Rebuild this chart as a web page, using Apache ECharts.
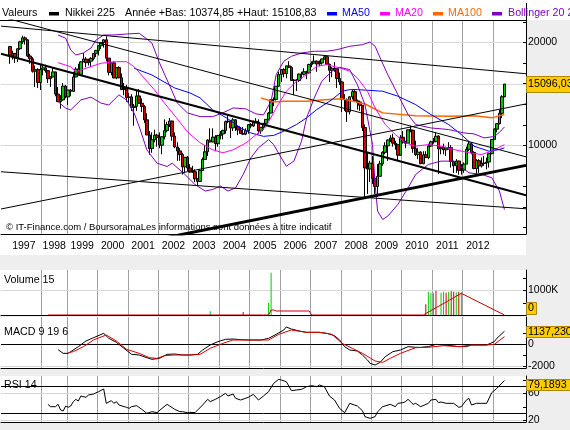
<!DOCTYPE html>
<html><head><meta charset="utf-8">
<script src="https://cdn.jsdelivr.net/npm/echarts@6/dist/echarts.min.js"></script>
<style>html,body{margin:0;padding:0;background:#eeeeee;}#c{width:570px;height:430px;}</style>
</head><body><div id="c"></div>
<script>
// ---------------- DATA ----------------
const slotCount = 207;            // monthly slots on the time axis
const candleStart = 3;            // slot index of first candle
const candleOpen = [
 19446,18330,18557,18003,19151,20069,20605,20331,18229,17888,16459,16636,
 15259,16628,16831,16527,15670,15830,16379,14108,13406,13565,14883,
 13842,14499,14368,15837,16701,16112,17530,17862,17437,17605,17943,18558,
 18934,19540,19960,20337,17974,16332,17411,15727,16861,15747,14539,14649,
 13786,13843,12883,12999,13934,13262,12969,11860,10713,9775,10366,10697,
 10543,9998,10588,11025,11493,11764,10622,9878,9619,9383,8640,9216,
 8579,8340,8363,7973,7831,8425,9083,9563,10344,10219,10560,10101,
 10677,10784,11042,11715,11762,11236,11859,11326,11082,10824,10771,11033,
 11489,11388,11741,11669,11009,11277,11584,11900,12414,13574,13607,14872,
 16111,16650,16205,17060,16906,15467,15505,15457,16141,16128,16399,16274,
 17226,17383,17604,17288,17400,17876,18138,17249,16569,16786,16738,15681,
 15308,13592,13604,12526,13850,14339,13482,13377,13073,11260,8577,8512,
 8860,7994,7568,8110,8828,9523,9958,10357,10493,10133,10035,9346,
 10546,10198,10126,11090,11057,9769,9383,9537,8824,9369,9202,9937,
 10229,10238,10624,9755,9850,9694,9816,9833,8955,8700,8988,8435,
 8455,8803,9723,10084,9521,8543,9007,8695,8840,8870,8928,9446,
 10395,11139,11559,12398,13861];
const candleHigh = [
 19446,18900,18600,19200,20200,20910,20800,20400,18500,18100,17100,16800,
 17300,17300,17200,16600,15900,16800,16400,14800,14000,15200,15000,
 14500,14600,16400,16900,17300,17600,18600,18100,17900,18100,18600,19000,
 19600,20000,20400,20833,18000,17500,17600,16900,17000,16200,15200,15000,
 14200,14100,13200,14500,14600,13700,13100,12400,11000,10900,11100,10800,
 10900,10600,11900,11700,12000,11800,10900,10200,9800,9500,9200,9300,
 8800,8700,8500,8000,8500,9200,10000,10400,11200,11200,10700,10700,
 11000,11100,11800,12200,11800,12000,11900,11400,11300,11300,11200,11500,
 11600,11800,12000,11900,11300,11600,11900,12500,13600,13800,14900,16400,
 16600,16800,17100,17600,17000,15600,15600,16200,16400,16800,16500,17300,
 17600,18300,17700,17700,17900,18300,18300,17300,16900,17500,16800,16300,
 15400,14100,13700,13900,14500,14600,13600,13500,13100,11500,9500,9000,
 9300,8100,8800,9000,9600,10200,10400,10700,10800,10300,10100,10700,
 11000,10300,11100,11400,11100,10300,9800,9600,9600,9600,10100,10300,
 10500,10900,10700,9900,10100,9900,10200,10000,9000,9100,9000,8800,
 8900,9900,10300,10200,9600,9100,9100,9200,9300,9200,9500,10400,
 11200,11600,12700,14000,15109];
const candleLow = [
 17303,17800,17400,17500,19000,19800,19700,18100,17300,16300,14800,14700,
 14500,16000,16300,15200,14800,15800,13900,13400,12787,13500,13700,
 13100,13900,14300,15800,16100,16000,17500,16900,17100,16900,17700,18100,
 18300,19100,19300,17600,16000,16000,15700,15600,15700,14500,14000,13400,
 13300,12600,11400,12600,13200,12500,11600,10700,9380,9500,10200,9900,
 9800,9400,10400,10900,11300,10300,9800,9000,9000,8200,8300,8400,
 8300,8300,7800,7604,7800,8400,9100,9300,10200,10200,9600,9900,
 10400,10400,10800,11600,10500,11000,11000,10700,10800,10700,10700,10800,
 11200,11300,11600,10800,10800,11100,11500,11800,12400,13000,13500,14800,
 15300,15800,15700,16800,15400,14000,14400,15300,15600,16000,15600,16200,
 16900,17300,16400,17000,17200,17800,17200,15300,15800,16400,14700,15000,
 12500,12600,11700,12300,13600,13400,12700,12600,11000,6994,7200,7800,
 7700,7200,7054,8100,8700,9400,9000,10200,9900,9700,9000,9300,
 10100,9800,10100,10900,9500,9300,9100,8800,8800,9200,9100,9900,
 10100,10200,8227,9400,9400,9300,9700,8600,8300,8300,8200,8200,
 8300,8800,9600,9400,8500,8200,8300,8600,8700,8500,8600,9400,
 10375,10900,11500,12000,13800];
const candleClose = [
 18330,18557,18003,19151,20069,20605,20331,18229,17888,16459,16636,15259,
 16628,16831,16527,15641,15830,16379,14108,13406,13565,14883,13842,
 14499,14368,15837,16701,16112,17530,17862,17437,17605,17943,18558,18934,
 19540,19960,20337,17974,16332,17411,15727,16861,15747,14539,14649,13786,
 13843,12883,12999,13934,13262,12969,11860,10713,9775,10366,10697,10543,
 9998,10588,11025,11493,11764,10622,9878,9619,9383,8640,9216,8579,
 8340,8363,7973,7831,8425,9083,9563,10344,10219,10560,10101,10677,
 10784,11042,11715,11762,11236,11859,11326,11082,10824,10771,11033,11489,
 11388,11741,11669,11009,11277,11584,11900,12414,13574,13607,14872,16111,
 16650,16205,17060,16906,15467,15505,15457,16141,16128,16399,16274,17226,
 17383,17604,17288,17400,17876,18138,17249,16569,16786,16738,15681,15308,
 13592,13604,12526,13850,14339,13482,13377,13073,11260,8577,8512,8860,
 7994,7568,8110,8828,9523,9958,10357,10493,10133,10035,9346,10546,
 10198,10126,11090,11057,9769,9383,9537,8824,9369,9202,9937,10229,
 10238,10624,9755,9850,9694,9816,9833,8955,8700,8988,8435,8455,
 8803,9723,10084,9521,8543,9007,8695,8840,8870,8928,9446,10395,
 11139,11559,12398,13861,15096.03];

const ma20Idx = [22,27,29,33,39,45,49,52,56,60,64,69,73,78,83,87,91,96,100,104,108,112,116,120,124,128,133,137,140,144,147,151,155,159,163,168,173,178,184,189,193,198];
const ma20Val = [17430,16970,16410,16790,17370,17550,17550,16970,15700,14510,13270,11940,10940,10160,9690,9500,9690,10140,10720,11330,12850,14380,15380,16080,17020,17200,16830,16460,15730,14380,12850,11490,10740,10160,9930,10040,9930,9710,9500,9390,9600,10040];
const ma50Idx = [52,59,68,74,78,83,89,94,98,103,107,111,116,120,124,130,134,137,140,150,156,163,169,176,181,186,192,196,198];
const ma50Val = [16790,16050,14700,14220,13750,12680,11940,11230,10860,10610,10680,10990,11490,12020,12710,13590,14380,14540,14540,14380,13910,13140,12290,11490,10740,9930,9600,9710,9820];
const ma100Idx = [102,107,111,120,127,134,143,150,163,176,186,193,198];
const ma100Val = [13750,13380,13450,13450,13590,13660,13200,12430,12200,12150,12200,12020,12290];
const bbUpIdx = [22,25,27,29,32,35,37,40,44,49,54,57,59,62,65,69,73,78,83,87,91,96,100,103,106,108,111,114,118,123,128,132,137,142,145,147,149,152,156,160,163,169,176,182,186,190,194,196,198];
const bbUpVal = [21010,20550,18990,18360,18610,19250,20310,21010,21010,21150,21250,20450,19900,17400,15520,13290,12430,12120,12120,12430,12850,12770,12350,12260,13450,16080,17600,18200,18610,18830,18830,19030,19470,19680,20040,19470,18000,16080,14060,12290,11490,11230,11110,10860,10790,10500,10600,10900,11300];
const bbLoIdx = [22,25,27,31,35,39,42,46,49,52,54,57,61,65,67,72,76,80,83,86,89,92,95,98,101,105,107,110,112,115,118,120,123,126,130,133,137,140,143,146,147,148,150,152,156,160,163,168,173,178,184,189,193,196,198];
const bbLoVal = [13410,12830,12680,13560,13820,13270,13110,14030,13560,12400,11330,9690,8860,8660,8860,8210,7670,7340,7420,7590,7340,7500,8210,9180,9820,10380,10040,9180,8680,8980,10270,12020,13750,15380,16460,16900,16630,15040,13140,10040,7670,6410,6060,6200,6710,7500,8210,8780,8980,8980,8300,8210,8030,7340,6480];

// trend lines: x in slot units, values in index points
const trendX1 = [-0.5, -0.5, -0.5, -0.5, -0.5, 60];
const trendV1 = [22300, 23750, 18520, 8359, 6504, 5280];
const trendX2 = [206.5, 206.5, 206.5, 206.5, 206.5, 206.5];
const trendV2 = [16180, 9243, 7134, 6513, 13203, 8728];
const trendWidth = [1, 1, 2, 1, 1, 3];

const volIdx = [82,95,105,106,167,168,169,170,171,173,174,175,176,177,178,179,180,181];
const volVal = [150,120,490,1690,430,930,890,870,970,890,930,890,930,950,930,910,930,910];
const volUp  = [1,0,1,1,0,1,1,1,0,1,1,0,1,0,0,1,0,1];
const volMaIdx = [18,105,106,107,108,121,122,166,181,198];
const volMaVal = [0,0,200,200,160,160,0,0,867,0];

const macdIdx = [22,24,26,30,33,36,40,42,45,48,51,54,57,59,62,65,68,71,74,77,79,82,85,88,91,94,97,99,102,105,108,111,112,114,117,120,122,125,128,131,133,135,137,140,142,144,145,147,149,151,154,157,160,163,165,168,171,174,177,180,183,185,188,191,194,195,198];
const macdVal = [-506,-833,-833,-238,268,565,952,506,149,-387,-923,-982,-1220,-1369,-1280,-923,-893,-982,-982,-923,-536,-89,208,417,446,387,357,357,357,506,863,1250,1518,1339,1161,1042,1042,1042,952,744,357,-238,-536,-625,-982,-1429,-1726,-1875,-1637,-1131,-685,-536,-238,-298,-298,-238,-30,-89,-149,-238,-238,-89,-89,-89,208,506,1137.23];
const sigIdx = [26,28,32,36,41,45,49,54,58,61,64,68,74,78,82,87,91,99,105,109,114,120,125,130,134,138,142,147,150,153,157,163,168,174,180,185,191,194,198];
const sigVal = [-774,-685,-238,357,804,268,-476,-833,-1220,-1280,-1042,-982,-982,-923,-387,60,357,357,357,863,1250,1042,1042,863,60,-387,-833,-1518,-1637,-1280,-833,-327,-298,-149,-238,-89,-89,-30,655];

const rsiIdx = [18,19,21,22,23,24,25,26,27,28,29,30,31,33,34,36,38,40,41,43,44,45,46,49,50,51,53,55,57,59,61,63,65,66,68,70,71,73,74,76,79,81,82,84,86,88,89,91,92,94,97,99,101,103,105,107,109,110,112,114,116,118,120,122,124,125,127,129,131,133,135,137,140,142,143,145,147,148,150,153,155,156,158,159,160,162,163,165,168,169,171,172,173,175,178,180,181,183,184,185,187,189,191,193,195,198];
const rsiVal = [43.5,40,40,43.5,35,33.5,41,39,41,47.5,51,48.5,56,54,57.5,59,62.5,66.5,45,49,45,47.5,42.5,39,37.5,40,41.5,36,30,32.5,31,37.5,43.5,41,36,32.5,32.5,31,31.5,31,42.5,51,47.5,51,55,60,56,59,52.5,50,54,58.5,50,56,62.5,75,81,80,77.5,64,65,66,70,71.5,70,72.5,70,56,50,37.5,31,45,41,34,25,22.5,25,32.5,40,43.5,40,45,46,47.5,51,43.5,45,40,45,50,51,46,47,45,45,39,40,50,52.5,42.5,45,45,45,61,67.5,79.1893];

const yearStartIdx = [16,26,38,50,62,74,86,98,110,122,134,146,158,170,182,194];
const yearLabelIdx = [9,21,32,44,56,68,80,92,104,116,128,140,152,164,176,188];
const yearLabels = ['1997','1998','1999','2000','2001','2002','2003','2004','2005','2006','2007','2008','2009','2010','2011','2012'];

const mainTickVals = [5743,6598,7579,8706,10000,11487,13195,15157,17411,20000,22974];
const mainLabelVals = [20000, 10000];
const mainLabelTxt = ['20000', '10000'];
const lastClose = 15096.03, lastCloseTxt = '15096,03';
const volTickVals = [500, 1000, 1500];
const volLabelVals = [1000]; const volLabelTxt = ['1000K'];
const lastVol = 0, lastVolTxt = '0';
const macdTickVals = [1000, 0, -1000, -2000];
const macdLabelVals = [0, -2000]; const macdLabelTxt = ['0', '-2000'];
const lastMacd = 1137.23, lastMacdTxt = '1137,230';
const rsiTickVals = [80, 60, 40, 20];
const rsiLabelVals = [60, 20]; const rsiLabelTxt = ['60', '20'];
const lastRsi = 79.1893, lastRsiTxt = '79,1893';

const headerInfo = 'Année +Bas: 10374,85 +Haut: 15108,83';

// ---------------- BUILD ----------------
const cats = []; for (let i = 0; i < slotCount; i++) cats.push(String(i));
const yearStartSet = new Set(yearStartIdx);
const labelMap = {}; yearLabelIdx.forEach((k, j) => labelMap[k] = yearLabels[j]);
const pairs = (a, b) => a.map((x, i) => [x, b[i]]);
const candleData = candleOpen.map((o, i) => [candleStart + i, o, candleClose[i], candleLow[i], candleHigh[i]]);

const FONT = 'Liberation Sans, Arial, sans-serif';
const GRID_L = 1, GRID_W = 525;
const PANELS = [
  {top: 20, height: 214},
  {top: 270, height: 45},
  {top: 317, height: 51},
  {top: 376, height: 46}
];
const grids = PANELS.map(p => ({left: GRID_L, width: GRID_W, top: p.top, height: p.height}));
const vSplit = {show: true, interval: (i) => yearStartSet.has(i), lineStyle: {color: '#a0a0a0', width: 1}};
function catAxis(g, showLabels) {
  return {
    type: 'category', gridIndex: g, data: cats, boundaryGap: true,
    axisLine: {show: true, onZero: false, lineStyle: {color: '#000', width: 1}},
    axisTick: {show: false},
    axisLabel: showLabels ? {
      show: true, interval: (i) => labelMap[i] !== undefined,
      formatter: (v, i) => labelMap[i] || '', color: '#000', fontSize: 10.5,
      fontFamily: FONT, margin: 7, padding: [0, 2.5, 0, 0]
    } : {show: false},
    splitLine: vSplit
  };
}
function valY(g, type, min, max) {
  return {
    type: type, gridIndex: g, min: min, max: max, position: 'right',
    axisLine: {show: true, onZero: false, lineStyle: {color: '#000', width: 1}},
    axisTick: {show: false}, axisLabel: {show: false}, splitLine: {show: false}
  };
}
const lineS = (x, y, data, color, width, z) => ({
  type: 'line', xAxisIndex: x, yAxisIndex: y, data: data, symbol: 'none', showSymbol: false,
  lineStyle: {color: color, width: width}, z: z || 3, silent: true, animation: false
});
const hLine = (vals, color) => vals.map(v => ({yAxis: v, lineStyle: {color: color, width: 1, type: 'solid'}}));
const markL = (items) => ({silent: true, symbol: 'none', label: {show: false}, z: 1, data: items});

const series = [];
series.push({
  type: 'candlestick', xAxisIndex: 0, yAxisIndex: 0, data: candleData,
  encode: {x: 0, y: [1, 2, 3, 4]}, barWidth: 3, z: 2,
  itemStyle: {color: '#00c800', color0: '#d40000', borderColor: '#000', borderColor0: '#000', borderWidth: 1},
  markLine: markL(hLine([20000, 10000, lastClose], '#d8d8d8'))
});
series.push(lineS(0, 0, pairs(ma100Idx, ma100Val), '#ff6600', 1.5));
series.push(lineS(0, 0, pairs(ma50Idx, ma50Val), '#0000ff', 1));
series.push(lineS(0, 0, pairs(ma20Idx, ma20Val), '#ff00ff', 1));
series.push(lineS(0, 0, pairs(bbUpIdx, bbUpVal), '#8000c0', 1));
series.push(lineS(0, 0, pairs(bbLoIdx, bbLoVal), '#8000c0', 1));
for (let k = 0; k < trendX1.length; k++) {
  series.push(lineS(4, 0, [[trendX1[k], trendV1[k]], [trendX2[k], trendV2[k]]], '#000', trendWidth[k], 4));
}
series.push({
  type: 'bar', xAxisIndex: 1, yAxisIndex: 1, barWidth: 1, silent: true, z: 2,
  data: volIdx.map((k, i) => ({value: [k, volVal[i]], itemStyle: {color: volUp[i] ? '#00cc00' : '#cc0000'}})),
  markLine: markL(hLine([1000], '#d8d8d8'))
});
series.push(lineS(1, 1, pairs(volMaIdx, volMaVal), '#cc0000', 1));
const macdS = lineS(2, 2, pairs(macdIdx, macdVal), '#000', 1);
macdS.markLine = markL(hLine([0], '#000').concat(hLine([-2000], '#d8d8d8')));
series.push(macdS);
series.push(lineS(2, 2, pairs(sigIdx, sigVal), '#dd0000', 1));
const rsiS = lineS(3, 3, pairs(rsiIdx, rsiVal), '#000', 1);
rsiS.markLine = markL(hLine([70, 30], '#000').concat(hLine([60, 20], '#d8d8d8')));
series.push(rsiS);

const option = {
  animation: false,
  backgroundColor: '#eeeeee',
  textStyle: {fontFamily: FONT},
  grid: grids,
  xAxis: [
    catAxis(0, true), catAxis(1, false), catAxis(2, false), catAxis(3, false),
    {type: 'value', gridIndex: 0, min: -0.5, max: slotCount - 0.5, position: 'top',
     axisLine: {show: true, onZero: false, lineStyle: {color: '#000', width: 1}},
     axisTick: {show: false}, axisLabel: {show: false}, splitLine: {show: false}}
  ],
  yAxis: [
    valY(0, 'log', 5496, 23240),
    valY(1, 'value', 0, 1800),
    valY(2, 'value', -2143, 2411),
    valY(3, 'value', 17, 86)
  ],
  series: series
};

const chart = echarts.init(document.getElementById('c'), null, {renderer: 'canvas'});
chart.setOption(option);

// ---------------- DECORATION (text, ticks, value boxes) ----------------
const RX = 526;
const g = [];
const rect = (x, y, w, h, fill, z) => ({type: 'rect', shape: {x: x, y: y, width: w, height: h}, style: {fill: fill}, z: z, silent: true});
const txt = (x, y, t, color, size) => ({type: 'text', x: x, y: y, z: 100, silent: true,
  style: {text: t, fill: color || '#000', font: (size || 10.7) + 'px ' + FONT, verticalAlign: 'middle', align: 'left'}});
const seg = (x1, y1, x2, y2) => ({type: 'line', shape: {x1: x1, y1: y1, x2: x2, y2: y2}, style: {stroke: '#000', lineWidth: 1}, z: 100, silent: true});

// panel backgrounds
g.push(rect(0, 0, 570, 20, '#ffffff', -100));
g.push(rect(0, 20, RX, 235, '#ffffff', -100));
PANELS.slice(1).forEach(p => g.push(rect(0, p.top, RX, p.height, '#ffffff', -100)));
g.push(seg(RX + 0.5, 3, RX + 0.5, 20));
g.push(seg(0, 20.5, 2, 20.5));

// header / legend
g.push(txt(2, 13, 'Valeurs'));
g.push(rect(49, 12, 10, 3.5, '#000000', 100));
g.push(txt(65, 13, 'Nikkei 225'));
g.push(txt(125, 13, headerInfo));
g.push(rect(327, 12, 10, 3.5, '#0000ff', 100));
g.push(txt(342, 13, 'MA50', '#0000ff'));
g.push(rect(380, 12, 10, 3.5, '#ff00ff', 100));
g.push(txt(395, 13, 'MA20', '#ff00ff'));
g.push(rect(433, 12, 10, 3.5, '#ff6600', 100));
g.push(txt(448, 13, 'MA100', '#ff6600'));
g.push(rect(492, 12, 10, 3.5, '#8000c0', 100));
g.push(txt(508, 13, 'Bollinger 20 2', '#8000c0'));

g.push(txt(6, 227, '\u00a9 IT-Finance.com / BoursoramaLes informations sont donn\u00e9es \u00e0 titre indicatif', '#000', 9.5));
g.push(txt(4, 280.5, 'Volume 15'));
g.push(txt(4, 332, 'MACD 9 19 6'));
g.push(txt(4, 385.5, 'RSI 14'));

function axisDecor(ai, tickVals, labelVals, labelTxt, lastVal, lastTxt, boxW, boxH) {
  const p = PANELS[ai];
  tickVals.forEach(v => { const y = Math.round(chart.convertToPixel({yAxisIndex: ai}, v)) + 0.5; g.push(seg(RX - 3, y, RX, y)); });
  labelVals.forEach((v, i) => { const y = chart.convertToPixel({yAxisIndex: ai}, v); g.push(txt(RX + 2, y, labelTxt[i], '#000', 10.5)); });
  const yv = chart.convertToPixel({yAxisIndex: ai}, lastVal);
  // keep the value box inside its panel
  const top = Math.min(Math.max(yv - boxH / 2, p.top + 3), p.top + p.height - boxH - 1);
  g.push({type: 'rect', shape: {x: RX + 0.5, y: Math.round(top) + 0.5, width: boxW, height: boxH},
          style: {fill: '#ffcc00', stroke: '#b08800', lineWidth: 1}, z: 101, silent: true});
  const t = txt(RX + 2, Math.round(top) + 0.5 + boxH / 2, lastTxt, '#000', 10.7); t.z = 102; g.push(t);
}
axisDecor(0, mainTickVals, mainLabelVals, mainLabelTxt, lastClose, lastCloseTxt, 50, 16);
axisDecor(1, volTickVals, volLabelVals, volLabelTxt, lastVol, lastVolTxt, 10, 12);
axisDecor(2, macdTickVals, macdLabelVals, macdLabelTxt, lastMacd, lastMacdTxt, 50, 11);
axisDecor(3, rsiTickVals, rsiLabelVals, rsiLabelTxt, lastRsi, lastRsiTxt, 50, 11);

chart.setOption({graphic: {elements: g}});
</script></body></html>
